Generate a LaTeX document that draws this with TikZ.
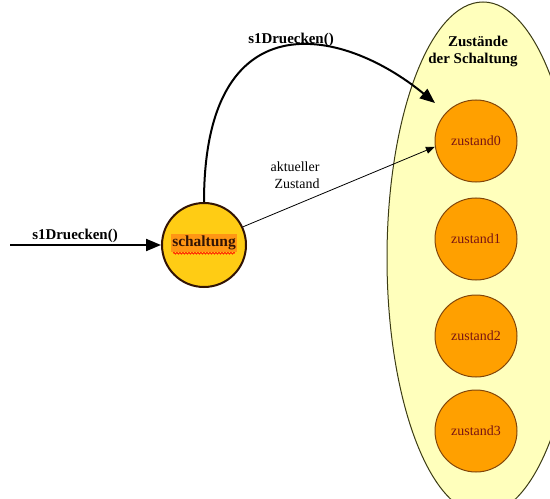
\documentclass[tikz,border=0pt]{standalone}
\usepackage{fontspec}
\setmainfont{Liberation Serif}
\usetikzlibrary{arrows.meta,decorations.pathmorphing}

\definecolor{setfill}{RGB}{255,255,188}
\definecolor{setline}{RGB}{60,60,20}
\definecolor{mainfill}{RGB}{255,204,20}
\definecolor{mainline}{RGB}{50,20,5}
\definecolor{statefill}{RGB}{255,160,0}
\definecolor{stateline}{RGB}{130,70,10}
\definecolor{statetext}{RGB}{120,20,20}
\definecolor{marktext}{RGB}{255,150,20}

\tikzset{
  mainstate/.style={circle, draw=mainline, line width=2bp, fill=mainfill,
    minimum size=84bp, inner sep=0pt},
  substate/.style={circle, draw=stateline, line width=1bp, fill=statefill,
    minimum size=82bp, inner sep=0pt, text=statetext,
    font=\fontsize{14}{16}\selectfont},
  boldlabel/.style={font=\fontsize{15}{17}\selectfont\bfseries, inner sep=0pt},
  plainlabel/.style={font=\fontsize{14}{16}\selectfont, inner sep=0pt},
  heavyarrow/.style={line width=2bp, -{Triangle[length=15bp,width=12bp]}},
  lightarrow/.style={line width=0.8bp, -{Triangle[length=9bp,width=7bp]}}
}

\begin{document}
\begin{tikzpicture}[x=1bp,y=-1bp]
  \useasboundingbox (0,0) rectangle (550,499);
  \begin{scope}
    \clip (0,0) rectangle (550,499);
    % set of states
    \draw[fill=setfill, draw=setline, line width=1bp] (483,258) ellipse [x radius=96, y radius=256];
  \end{scope}

  \node[boldlabel, anchor=base] (title1) at (478,47) {Zustände};
  \node[boldlabel, anchor=base] (title2) at (473,64) {der Schaltung};

  % the four states
  \node[substate] (z0) at (476,141) {zustand0};
  \node[substate] (z1) at (476,239) {zustand1};
  \node[substate] (z2) at (476,336) {zustand2};
  \node[substate] (z3) at (476,431) {zustand3};

  % the circuit object
  \node[mainstate] (s) at (204,245) {};
  \node[fill=marktext, inner xsep=1bp, inner ysep=2bp,
        font=\fontsize{15.5}{17}\selectfont\bfseries, text=mainline] (sname) at (204,243) {schaltung};
  \draw[red, line width=0.7bp, decorate,
        decoration={snake, segment length=3bp, amplitude=0.8bp}]
    ([xshift=2bp,yshift=-1bp]sname.south west) -- ([xshift=-2bp,yshift=-1bp]sname.south east);

  % incoming event
  \coordinate (in) at (10,245);
  \draw[heavyarrow] (in) -- (s.west);
  \node[boldlabel, anchor=base] (inlabel) at (75,239) {s1Druecken()};

  % event forwarded to the state set
  \coordinate (tip) at (435,103);
  \draw[heavyarrow] (s.north) .. controls (204,0) and (340,25) .. (tip);
  \node[boldlabel, anchor=base] (toplabel) at (291,44) {s1Druecken()};

  % reference to the current state
  \draw[lightarrow] (s.25) -- (z0.188);
  \node[plainlabel, anchor=base] (cur1) at (295,172) {aktueller};
  \node[plainlabel, anchor=base] (cur2) at (297,189) {Zustand};
\end{tikzpicture}
\end{document}
